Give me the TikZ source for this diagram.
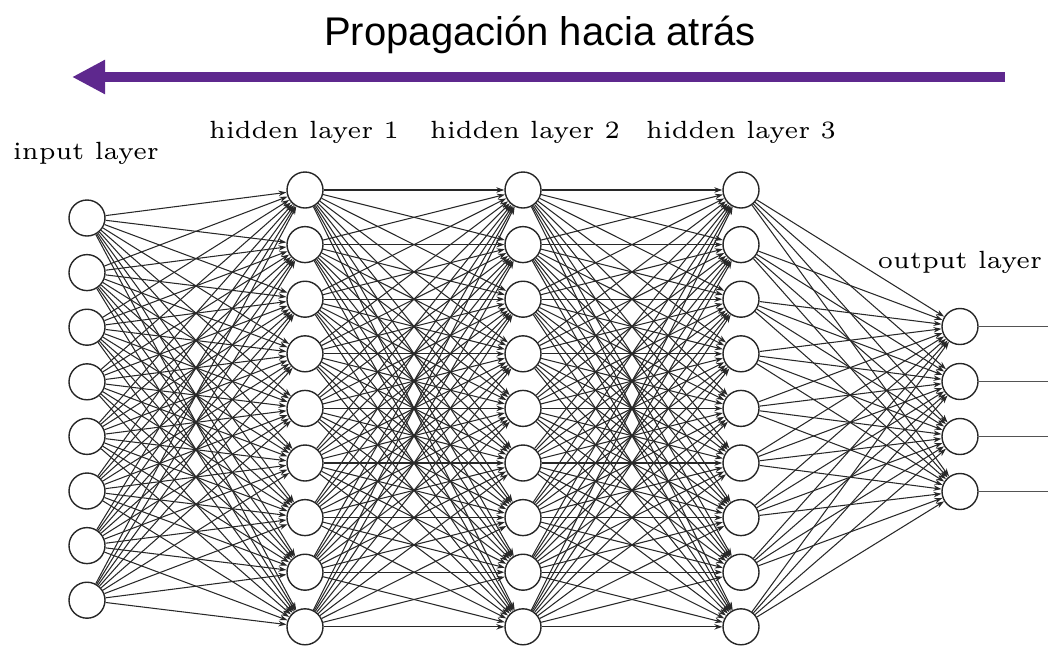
\documentclass[tikz,border=0pt]{standalone}
\usepackage{fontspec}
\newfontfamily\titlefont{Liberation Sans}
\usetikzlibrary{arrows.meta}
\definecolor{bpurple}{RGB}{94,40,142}
\definecolor{edgegray}{RGB}{40,40,40}
\newcommand{\lbl}[1]{\scalebox{4.15}{\fontsize{6}{7}\selectfont #1}}
\begin{document}
\begin{tikzpicture}[x=1pt,y=-1pt,
  neuron/.style={circle, draw=black!85, line width=1.4pt, minimum size=36pt, inner sep=0pt, fill=white},
  conn/.style={draw=edgegray, line width=1.05pt, -{Stealth[length=8pt,width=5.5pt]}},
  outline/.style={draw=edgegray!80, line width=1.5pt},
  layerlabel/.style={anchor=base, inner sep=0pt},
  backarrow/.style={draw=bpurple, line width=10pt, -{Triangle[length=33pt,width=32pt]}},
]
\useasboundingbox (0,0) rectangle (1048,646);
% title and arrow
\node[anchor=base, inner sep=0pt] (title) at (540,45) {\titlefont\fontsize{40}{46}\selectfont Propagación hacia atrás};
\coordinate (arrS) at (1005,77);
\coordinate (arrE) at (72,77);
\draw[backarrow] (arrS) -- (arrE);
% neurons
\foreach \i in {1,...,8} \node[neuron] (i\i) at (87, {218+54.6*(\i-1)}) {};
\foreach \j in {1,...,9} {
  \node[neuron] (a\j) at (305, {190+54.6*(\j-1)}) {};
  \node[neuron] (b\j) at (523, {190+54.6*(\j-1)}) {};
  \node[neuron] (c\j) at (741, {190+54.6*(\j-1)}) {};
}
\foreach \k in {1,...,4} {
  \node[neuron] (o\k) at (960, {326.5+55*(\k-1)}) {};
  \coordinate (e\k) at (1048, {326.5+55*(\k-1)});
}
% connections
\foreach \s in {1,...,8} \foreach \t in {1,...,9} \draw[conn] (i\s) -- (a\t);
\foreach \s in {1,...,9} \foreach \t in {1,...,9} {
  \draw[conn] (a\s) -- (b\t);
  \draw[conn] (b\s) -- (c\t);
}
\foreach \s in {1,...,9} \foreach \t in {1,...,4} \draw[conn] (c\s) -- (o\t);
\foreach \k in {1,...,4} \draw[outline] (o\k) -- (e\k);
% labels
\node[layerlabel] (lin) at (86,159) {\lbl{input layer}};
\node[layerlabel] (lh1) at (304,138) {\lbl{hidden layer 1}};
\node[layerlabel] (lh2) at (525,138) {\lbl{hidden layer 2}};
\node[layerlabel] (lh3) at (741,138) {\lbl{hidden layer 3}};
\node[layerlabel] (lout) at (960,268) {\lbl{output layer}};
\end{tikzpicture}
\end{document}
